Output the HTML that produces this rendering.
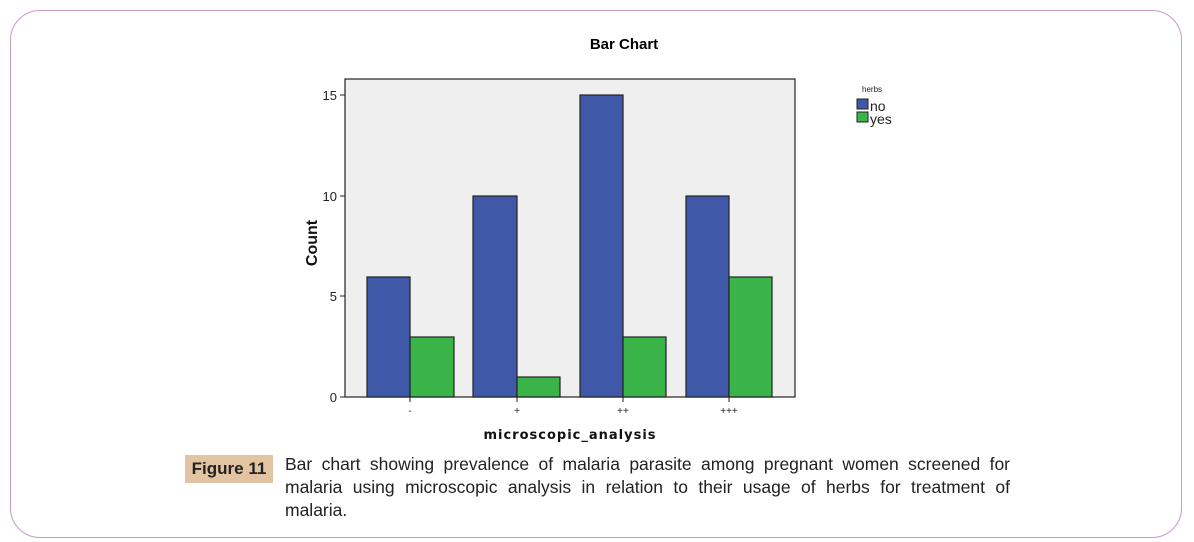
<!DOCTYPE html>
<html><head><meta charset="utf-8"><style>
body{margin:0;width:1194px;height:542px;background:#fff;position:relative;overflow:hidden;font-family:"Liberation Sans",sans-serif}
.card{position:absolute;left:10px;top:10px;width:1172px;height:528px;border:1.5px solid #c899c8;border-radius:30px;box-sizing:border-box}
.fig{position:absolute;left:185px;top:455px;width:88px;height:28px;background:#e2c4a2;font-family:"Liberation Sans",sans-serif;font-size:17px;font-weight:bold;line-height:28px;text-align:center;color:#222}
.cap{position:absolute;left:285px;top:453px;width:725px;font-family:"Liberation Sans",sans-serif;font-size:17.5px;line-height:23px;color:#222}
.cap div{white-space:nowrap}
.j{text-align:justify;text-align-last:justify}
</style></head><body>
<div class="card"></div>
<svg width="1194" height="542" style="position:absolute;left:0;top:0">
<text x="624" y="49" font-size="15" font-weight="bold" text-anchor="middle" font-family="Liberation Sans">Bar Chart</text>
<rect x="345" y="79" width="450" height="318" fill="#efefef" stroke="#222" stroke-width="1.2"/>
<g stroke="#222" stroke-width="1">
<line x1="340" y1="95" x2="345" y2="95"/><line x1="340" y1="196" x2="345" y2="196"/><line x1="340" y1="296" x2="345" y2="296"/><line x1="340" y1="397" x2="345" y2="397"/>
<line x1="410" y1="397" x2="410" y2="402"/><line x1="517" y1="397" x2="517" y2="402"/><line x1="623" y1="397" x2="623" y2="402"/><line x1="729" y1="397" x2="729" y2="402"/>
</g>
<g font-size="13" text-anchor="end" fill="#222"><text x="337" y="100">15</text><text x="337" y="201">10</text><text x="337" y="301">5</text><text x="337" y="402">0</text></g>
<g font-size="10" text-anchor="middle" fill="#222"><text x="410" y="414">-</text><text x="517" y="414">+</text><text x="623" y="414">++</text><text x="729" y="414">+++</text></g>
<g stroke="#222" stroke-width="1.2">
<rect x="367" y="277" width="43" height="120" fill="#3f58a8"/><rect x="410" y="337" width="44" height="60" fill="#3ab449"/>
<rect x="473" y="196" width="44" height="201" fill="#3f58a8"/><rect x="517" y="377" width="43" height="20" fill="#3ab449"/>
<rect x="580" y="95" width="43" height="302" fill="#3f58a8"/><rect x="623" y="337" width="43" height="60" fill="#3ab449"/>
<rect x="686" y="196" width="43" height="201" fill="#3f58a8"/><rect x="729" y="277" width="43" height="120" fill="#3ab449"/>
</g>
<text x="570" y="439" font-size="13" font-weight="bold" text-anchor="middle" font-family="DejaVu Sans" letter-spacing="1" fill="#111">microscopic_analysis</text>
<text transform="translate(317,243) rotate(-90)" font-size="16" font-weight="bold" text-anchor="middle" fill="#111">Count</text>
<text x="862" y="92" font-size="8" fill="#222">herbs</text>
<rect x="857" y="99" width="11" height="10" fill="#3f58a8" stroke="#222"/>
<rect x="857" y="112" width="11" height="10" fill="#3ab449" stroke="#222"/>
<text x="870" y="111" font-size="14" fill="#222">no</text>
<text x="870" y="124" font-size="14" fill="#222">yes</text>
</svg>
<div class="fig">Figure 11</div>
<div class="cap"><div class="j">Bar chart showing prevalence of malaria parasite among pregnant women screened for</div><div class="j">malaria using microscopic analysis in relation to their usage of herbs for treatment of</div><div>malaria.</div></div>
</body></html>
